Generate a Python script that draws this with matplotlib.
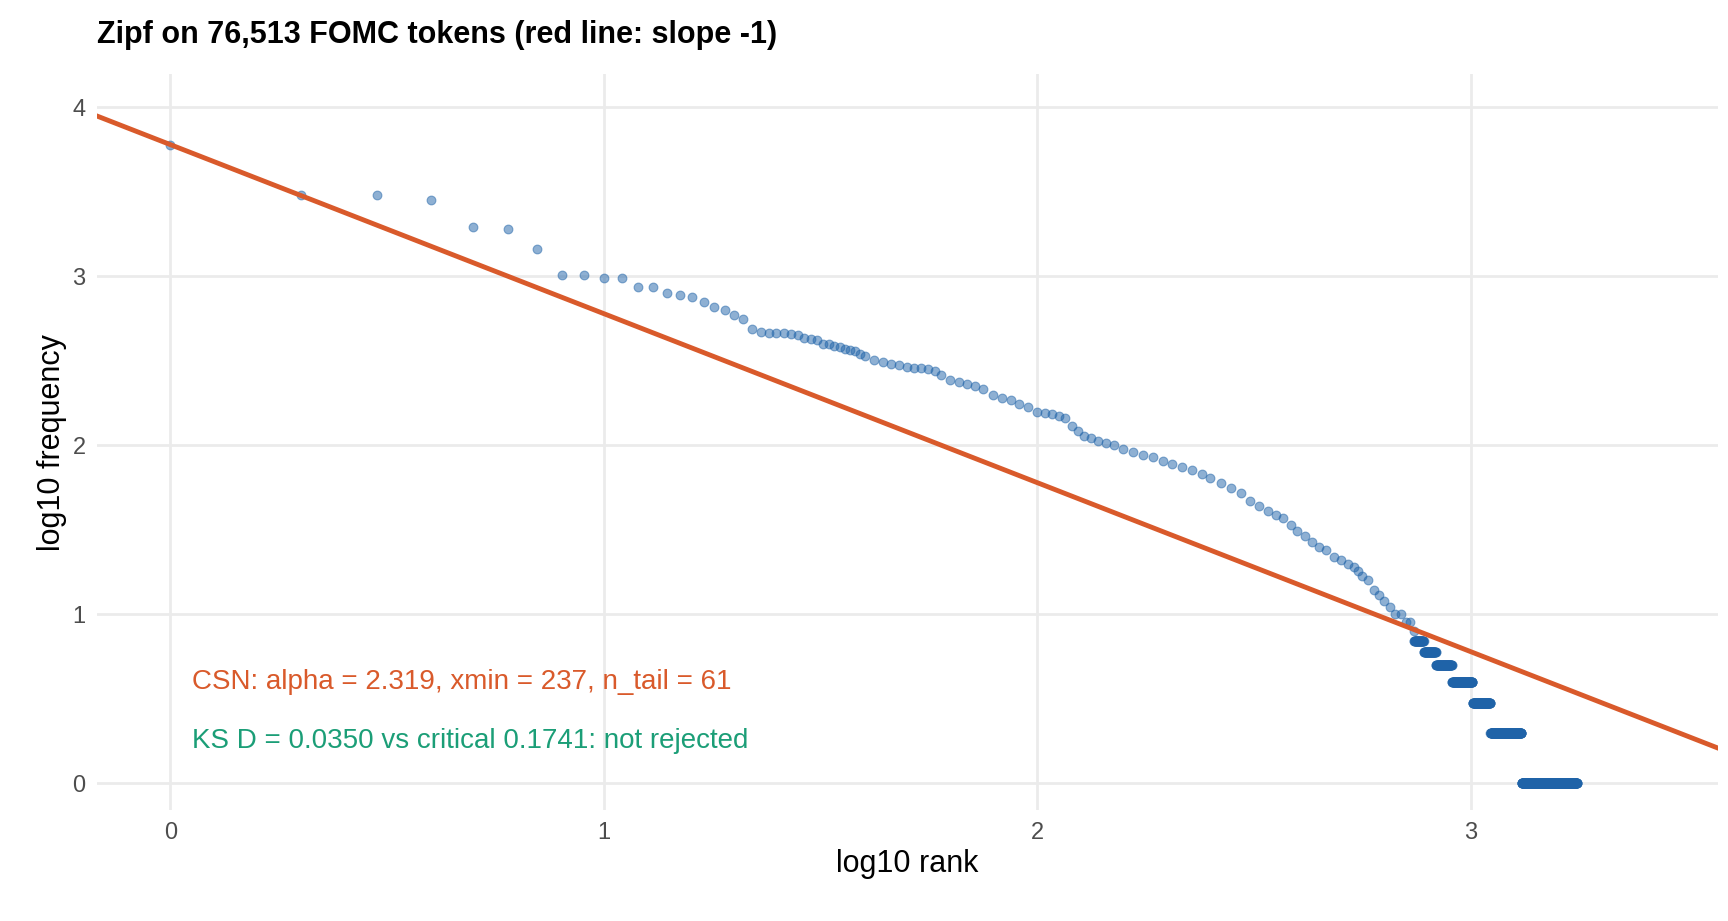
import numpy as np
import matplotlib.pyplot as plt

plt.rcParams['font.family'] = ['Liberation Sans', 'DejaVu Sans']

# top ranks read one by one, then ranks
top_freq = [6026, 3020, 3020, 2818, 1950, 1905, 1445, 1023, 1023, 977,
            977, 871, 871, 794, 776, 759, 708, 661, 631, 589]
mid_rank = [21, 22, 23, 24, 25, 26, 27, 28, 29, 30, 31, 32, 33, 34, 35, 36, 37,
            38, 39, 40, 42, 44, 46, 48, 50, 52, 54, 56, 58, 60, 63, 66, 69, 72,
            75, 79, 83, 87, 91, 95, 100, 104, 108, 112, 116, 120, 124, 128, 133,
            138, 144, 150, 158, 166, 175, 185, 195, 205, 216, 228, 240, 251, 265,
            280, 295, 310, 325, 340, 355, 370, 385, 398, 415, 430, 447, 465, 485,
            501, 520, 537, 550, 562, 580, 600, 615, 631, 650, 670, 690, 708, 725, 740]
mid_freq = [560, 490, 470, 465, 462, 460, 455, 450, 430, 425, 420, 400, 398, 390,
            380, 372, 368, 362, 350, 340, 320, 310, 305, 298, 290, 288, 286, 284,
            276, 260, 244, 238, 232, 224, 215, 200, 192, 186, 176, 168, 158, 156,
            154, 150, 146, 130, 122, 114, 110, 106, 103, 100, 95, 91, 88, 85, 81,
            78, 75, 72, 68, 64, 60, 56, 52, 47, 44, 41, 39, 37, 34, 31, 29, 27,
            25, 24, 22, 21, 20, 19, 18, 17, 16, 14, 13, 12, 11, 10, 10, 9, 9, 8]
# frequency spectrum for the rare words: (freq, first rank, last rank)
spectrum = [(7, 741, 779), (6, 780, 831), (5, 832, 905), (4, 906, 1010),
            (3, 1011, 1110), (2, 1111, 1310), (1, 1311, 1760)]

ranks = list(range(1, len(top_freq) + 1)) + mid_rank
freqs = top_freq + mid_freq
for f, r0, r1 in spectrum:
    for r in range(r0, r1 + 1):
        ranks.append(r)
        freqs.append(f)
x = np.log10(ranks)
y = np.log10(freqs)

fig = plt.figure(figsize=(17.28, 9.21), dpi=100)
ax = fig.add_axes([0.056, 0.12, 0.938, 0.8])
ax.scatter(x, y, s=40, color='#1f63a8', alpha=0.5, edgecolors='#1f63a8', linewidths=0.8, zorder=3)
ax.axline((0, y[0]), slope=-1, color='#d95a2b', lw=3.5, zorder=4)

ax.set_xlim(-0.17, 3.57)
ax.set_ylim(-0.16, 4.2)
ax.set_xticks([0, 1, 2, 3])
ax.set_yticks([0, 1, 2, 3, 4])
ax.grid(True, color='#ebebeb', lw=2)
ax.set_axisbelow(True)
for s in ax.spines.values():
    s.set_visible(False)
ax.tick_params(length=0, labelsize=17, labelcolor='#4d4d4d', pad=8)
ax.set_xlabel('log10 rank', fontsize=22)
ax.set_ylabel('log10 frequency', fontsize=22)
ax.text(0.05, 0.6, 'CSN: alpha = 2.319, xmin = 237, n_tail = 61', color='#d95a2b',
        fontsize=20, va='center')
ax.text(0.05, 0.25, 'KS D = 0.0350 vs critical 0.1741: not rejected', color='#1b9e77',
        fontsize=20, va='center')
fig.text(0.056, 0.962, 'Zipf on 76,513 FOMC tokens (red line: slope -1)', fontsize=22,
         fontweight='bold', va='center')
fig.savefig('out.png')
